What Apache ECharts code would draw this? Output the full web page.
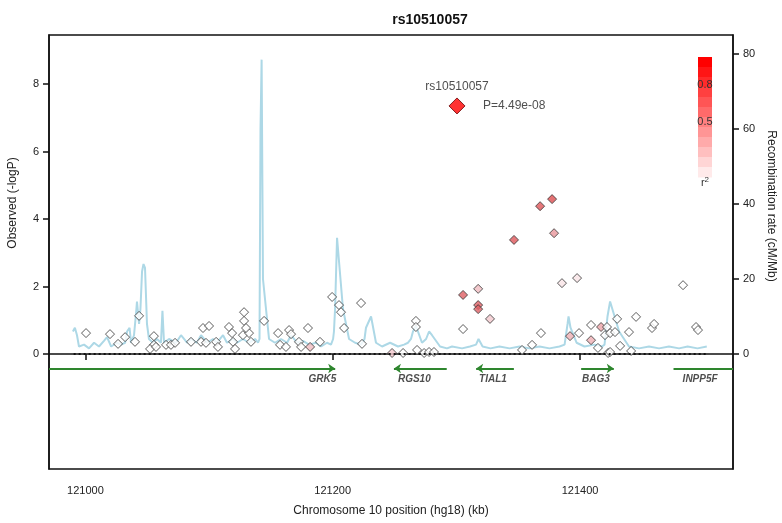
<!DOCTYPE html>
<html><head><meta charset="utf-8">
<script src="https://cdn.jsdelivr.net/npm/echarts@6/dist/echarts.min.js"></script>
<style>html,body{margin:0;padding:0;background:#fff}#c{width:782px;height:523px}</style>
</head><body><div id="c"></div>
<script>
// SNP positions (kb), -log10 P, and r2 with the index SNP
const snpPos = [121000.5,121019.9,121032.1,121026.4,121040.1,121043.4,121055.4,121055.4,121052.3,121057.1,121065.2,121069.2,121072.5,121085.4,121093.5,121097.5,121095.1,121100.0,121105.7,121107.2,121116.1,121118.6,121119.4,121121.0,121127.4,121132.3,121128.3,121128.3,121129.9,121133.9,121144.5,121155.8,121157.4,121162.2,121164.7,121166.3,121172.7,121174.4,121181.7,121180.0,121189.7,121199.5,121205.1,121206.7,121209.2,121222.9,121223.7,121248.0,121256.9,121267.3,121267.3,121268.2,121273.9,121277.9,121281.9,121305.4,121305.4,121317.6,121317.6,121317.6,121327.2,121346.6,121353.1,121361.2,121367.7,121368.4,121377.4,121379.0,121385.4,121397.6,121391.9,121399.2,121408.9,121408.9,121414.5,121417.0,121420.2,121421.8,121424.3,121422.7,121424.3,121428.3,121430.0,121432.4,121439.6,121441.3,121445.3,121458.2,121459.9,121483.3,121493.8,121495.4];
const snpLogP = [0.62,0.59,0.50,0.30,0.36,1.13,0.53,0.27,0.15,0.21,0.27,0.27,0.33,0.36,0.36,0.33,0.77,0.83,0.36,0.21,0.80,0.62,0.36,0.15,0.56,0.62,1.24,0.98,0.77,0.36,0.98,0.62,0.27,0.21,0.71,0.59,0.36,0.21,0.21,0.77,0.36,1.69,1.45,1.24,0.77,1.51,0.30,0.03,0.03,0.98,0.80,0.12,0.03,0.06,0.06,1.75,0.74,1.93,1.45,1.33,1.04,3.38,0.12,0.27,4.38,0.62,4.59,3.58,2.10,2.25,0.53,0.62,0.86,0.41,0.18,0.80,0.56,0.80,0.62,0.03,0.06,0.65,1.04,0.24,0.65,0.09,1.10,0.77,0.89,2.04,0.80,0.71];
const snpR2 = [0,0,0,0,0,0,0,0,0,0,0,0,0,0,0,0,0,0,0,0,0,0,0,0,0,0,0,0,0,0,0,0,0,0,0,0,0,0,0.25,0,0,0,0,0,0,0,0,0.2,0,0,0,0,0,0,0,0.6,0,0.25,0.6,0.6,0.2,0.65,0,0,0.65,0,0.7,0.4,0.1,0.1,0.3,0,0,0.3,0,0.35,0,0,0,0,0,0,0,0,0,0,0,0,0,0,0,0];
// index SNP
const topName = 'rs10510057';
const topPos = 121300.5;
const topLogP = 7.35;
const topP = 'P=4.49e-08';
// recombination rate (kb, cM/Mb)
const recPos = [120989.9,120991.5,120993.2,120994.8,120998.9,121002.9,121007.0,121011.0,121015.0,121017.5,121020.8,121025.5,121028.8,121032.1,121033.7,121035.7,121036.9,121039.3,121041.0,121041.7,121043.4,121044.5,121045.8,121047.0,121048.2,121049.8,121051.4,121054.7,121057.9,121061.1,121062.3,121063.6,121067.6,121073.3,121077.3,121082.2,121085.4,121090.2,121093.5,121098.4,121103.2,121106.4,121111.3,121114.5,121119.4,121122.6,121127.4,121132.3,121137.2,121139.6,121140.8,121141.6,121142.5,121143.6,121148.5,121153.3,121158.2,121163.1,121166.3,121171.1,121176.0,121180.8,121186.5,121190.6,121195.4,121198.6,121200.3,121201.0,121201.9,121203.5,121208.3,121213.2,121218.1,121222.9,121224.5,121225.7,121226.9,121231.0,121235.0,121239.9,121246.4,121252.8,121257.7,121260.9,121263.3,121264.9,121267.3,121272.2,121275.5,121277.9,121280.3,121286.8,121292.4,121296.5,121304.6,121311.0,121315.9,121317.9,121321.2,121327.6,121334.9,121343.0,121351.1,121359.1,121367.3,121375.3,121383.4,121387.5,121389.0,121389.9,121390.7,121392.3,121397.2,121403.6,121411.8,121417.8,121419.8,121421.1,121422.2,121424.3,121431.6,121439.6,121447.7,121455.8,121463.9,121471.9,121480.1,121487.0,121495.0,121502.5];
const recRate = [6,7,5,2,2.5,1.5,3,2,3.5,4.5,2,3,2.5,3,6,7,3,5,11,14,8,12,22,24,23,8,4,3,4,3,11.5,3,4,3,5,3,4,3,5,3,4,3,5,3,4,3,4,3,4,3,4,60,78.5,20,4,3,4,3,5,3,3.5,2.5,3,2,3,2.5,4,6,12,31,12,4,3,2.5,3,4,7,10,3,2,3,2,2.5,3,4,6,7.5,3,4,6,5,2,1.5,2,1.5,2,2.5,4,2,1.5,2,1.5,2,1.5,2,1.5,2,2.5,3,8,10,7,3,2,2.5,2,2.5,3,10,14,6,2,1.5,2,1.5,2,1.5,2,1.5,2,1.5,2];
// genes (kb); '+' arrow to the right, '-' arrow to the left
const geneNames = ['GRK5','RGS10','TIAL1','BAG3','INPP5F'];
const geneStart = [120970.6,121249.5,121316.0,121400.9,121475.6];
const geneEnd = [121202.0,121292.2,121346.5,121427.3,121523.7];
const geneStrand = ['+','-','-','+','+'];
const geneLabelPos = [121191.6,121266.0,121329.6,121412.9,121497.1];
// axes
const xTicks = [121000,121200,121400];
const yTicks = [0,2,4,6,8];
const rTicks = [0,20,40,60,80];
const legendLabels = ['0.8','0.5'];

const X_MIN = 120970.56, X_MAX = 121523.7;
const chart = echarts.init(document.getElementById('c'), null, {renderer:'canvas'});
const font = 'Liberation Sans, Arial, Helvetica, sans-serif';

function r2Color(r){
  const g = Math.round(255*(1-r));
  return 'rgb(255,'+g+','+g+')';
}
function r2Fill(r){
  if(r<=0) return '#ffffff';
  const base = [[0,255,255,255],[0.2,242,200,205],[0.4,232,150,155],[0.6,222,95,100],[0.8,220,60,60],[1,255,0,0]];
  for(let i=1;i<base.length;i++){
    if(r<=base[i][0]){
      const a=base[i-1], b=base[i], t=(r-a[0])/(b[0]-a[0]);
      return 'rgb('+[1,2,3].map(k=>Math.round(a[k]+(b[k]-a[k])*t)).join(',')+')';
    }
  }
  return '#ff0000';
}

const snpData = snpPos.map((p,i)=>({value:[p,snpLogP[i]], itemStyle:{color:r2Fill(snpR2[i])}}));
const recData = recPos.map((p,i)=>[p,recRate[i]]);
const geneY = -0.43;
const arrowGenes = [], plainGenes = [];
geneNames.forEach((n,i)=>{
  const a=[geneStart[i],geneY], b=[geneEnd[i],geneY];
  const pointsTo = geneStrand[i]==='+' ? geneEnd[i] : geneStart[i];
  const hitsEdge = pointsTo <= X_MIN+0.5 || pointsTo >= X_MAX-0.5;
  const item = {coords: geneStrand[i]==='+' ? [a,b] : [b,a]};
  (hitsEdge ? plainGenes : arrowGenes).push(item);
});
const geneLabelData = geneNames.map((n,i)=>({value:[geneLabelPos[i], geneY], name:n}));

const legendSteps = 12;
const G = [];
const lx = 698, ly = 57, lw = 14, lh = 120;
for(let i=0;i<legendSteps;i++){
  const r = 1 - i/legendSteps;
  G.push({type:'rect', shape:{x:lx, y:ly+i*lh/legendSteps, width:lw, height:lh/legendSteps+0.5}, style:{fill:r2Color(Math.max(0.08,r))}, silent:true});
}
G.push({type:'text', x:lx+lw/2, y:85, style:{text:legendLabels[0], font:'11px '+font, fill:'#333', align:'center', verticalAlign:'middle'}});
G.push({type:'text', x:lx+lw/2, y:122, style:{text:legendLabels[1], font:'11px '+font, fill:'#333', align:'center', verticalAlign:'middle'}});
G.push({type:'text', x:lx+lw/2, y:183, style:{text:'{a|r}{b|2}', rich:{a:{font:'11px '+font, fill:'#333'}, b:{font:'8px '+font, fill:'#333', verticalAlign:'top', padding:[0,0,6,0]}}, align:'center', verticalAlign:'middle'}});
G.push({type:'text', x:13, y:203, rotation:Math.PI/2, style:{text:'Observed (-logP)', font:'12px '+font, fill:'#222', align:'center', verticalAlign:'middle'}});
G.push({type:'text', x:771, y:206, rotation:-Math.PI/2, style:{text:'Recombination rate (cM/Mb)', font:'12px '+font, fill:'#222', align:'center', verticalAlign:'middle'}});

const option = {
  animation:false,
  backgroundColor:'#fff',
  title:{text:'rs10510057', left:425, top:8, textAlign:'center', textStyle:{fontFamily:font, fontSize:14, fontWeight:'bold', color:'#111'}},
  grid:{left:49, right:49, top:35, bottom:54, show:true, borderColor:'#111', borderWidth:1.5, backgroundColor:'#fff'},
  xAxis:{type:'value', min:X_MIN, max:X_MAX, position:'bottom',
    axisLine:{show:true, lineStyle:{color:'#111', width:1.5}},
    axisTick:{show:true, customValues:xTicks, length:6, lineStyle:{color:'#111', width:1.5}},
    axisLabel:{customValues:xTicks, color:'#222', fontFamily:font, fontSize:11, margin:16, formatter:v=>String(v)},
    splitLine:{show:false},
    name:'Chromosome 10 position (hg18) (kb)', nameLocation:'middle', nameGap:36, nameTextStyle:{fontFamily:font, fontSize:12, color:'#222'}},
  yAxis:[
    {type:'value', min:-3.407, max:9.452, position:'left',
      axisLine:{show:true, lineStyle:{color:'#111', width:1.5}},
      axisTick:{show:true, customValues:yTicks, length:6, lineStyle:{color:'#111', width:1.5}},
      axisLabel:{customValues:yTicks, color:'#222', fontFamily:font, fontSize:11, margin:10},
      splitLine:{show:false}},
    {type:'value', min:-30.67, max:85.07, position:'right',
      axisLine:{show:true, lineStyle:{color:'#111', width:1.5}},
      axisTick:{show:true, customValues:rTicks, length:6, lineStyle:{color:'#111', width:1.5}},
      axisLabel:{customValues:rTicks, color:'#222', fontFamily:font, fontSize:11, margin:10},
      splitLine:{show:false}}
  ],
  series:[
    {type:'line', yAxisIndex:1, data:recData, showSymbol:false, symbol:'none', smooth:false,
      lineStyle:{color:'#add8e6', width:2}, z:1, silent:true},
    {type:'scatter', yAxisIndex:0, data:[], z:2, silent:true,
      markLine:{silent:true, symbol:['none','none'], label:{show:false},
        lineStyle:{color:'#111', type:[2,3], width:2},
        data:[[{coord:[120990.5,0]},{coord:[121503.4,0]}]]}},
    {type:'lines', coordinateSystem:'cartesian2d', yAxisIndex:0, data:arrowGenes, z:3, silent:true,
      symbol:['none','arrow'], symbolSize:7, lineStyle:{color:'#2e862e', width:2, opacity:1}},
    {type:'lines', coordinateSystem:'cartesian2d', yAxisIndex:0, data:plainGenes, z:3, silent:true,
      symbol:['none','none'], lineStyle:{color:'#2e862e', width:2, opacity:1}},
    {type:'scatter', yAxisIndex:0, data:geneLabelData, symbolSize:0, z:3, silent:true,
      label:{show:true, position:'bottom', distance:6, formatter:p=>p.name, fontFamily:font, fontSize:10, fontWeight:'bold', fontStyle:'italic', color:'#222'}},
    {type:'scatter', yAxisIndex:0, data:snpData, symbol:'diamond', symbolSize:[9,9], z:4, silent:true,
      itemStyle:{borderColor:'#333', borderWidth:1}},
    {type:'scatter', yAxisIndex:0, data:[[topPos, topLogP]], symbol:'diamond', symbolSize:[16,16], z:5, silent:true,
      itemStyle:{color:'#ff0000', borderColor:'#600', borderWidth:1},
      label:{show:true, position:'top', distance:5, formatter:()=>topName, fontFamily:font, fontSize:12, color:'#222'}},
    {type:'scatter', yAxisIndex:0, data:[[topPos, topLogP]], symbolSize:0, z:5, silent:true,
      label:{show:true, position:'right', distance:26, formatter:()=>topP, fontFamily:font, fontSize:12, color:'#222'}}
  ],
  graphic:G
};
chart.setOption(option);
</script></body></html>
